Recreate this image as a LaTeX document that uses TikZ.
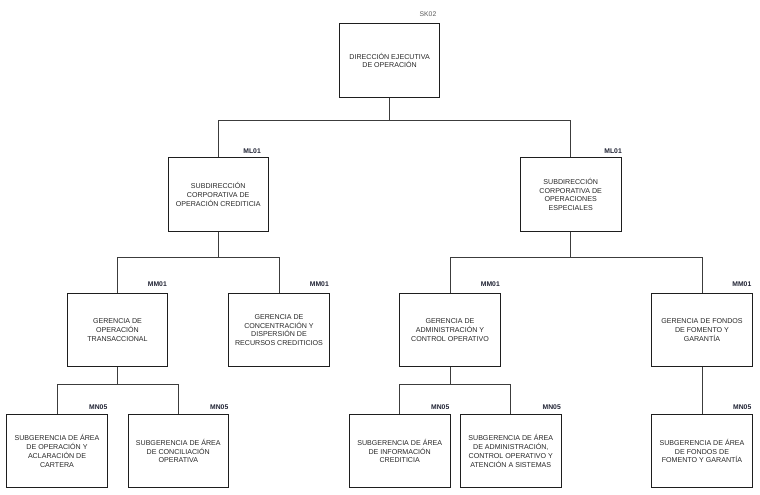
\documentclass[tikz,border=0pt]{standalone}
\usepackage{fontspec}
\setmainfont{Liberation Sans}
\definecolor{boxline}{HTML}{1E1E1E}
\definecolor{connline}{HTML}{3C3C3C}
\definecolor{boxtext}{HTML}{262626}
\definecolor{codetext}{HTML}{1F2233}
\definecolor{graycode}{HTML}{5A5A5A}
\tikzset{
  orgbox/.style={draw=boxline, line width=0.9pt, minimum width=100.5pt, minimum height=73.4pt,
    inner sep=0pt, align=center, text=boxtext,
    font=\fontsize{7.1pt}{8.8pt}\selectfont},
  codelbl/.style={anchor=base east, inner sep=0pt, text=codetext,
    font=\fontsize{6.8pt}{8pt}\selectfont\bfseries},
  graylbl/.style={anchor=base east, inner sep=0pt, text=graycode,
    font=\fontsize{6.8pt}{8pt}\selectfont},
  conn/.style={draw=connline, line width=0.9pt}
}
\begin{document}
\begin{tikzpicture}[x=1pt,y=-1pt]
\useasboundingbox (0,0) rectangle (760,495);
% boxes
\node[orgbox] (top) at (389.6,60.5) {DIRECCIÓN EJECUTIVA\\DE OPERACIÓN};
\node[orgbox] (l1) at (218.2,194.5) {SUBDIRECCIÓN\\CORPORATIVA DE\\OPERACIÓN CREDITICIA};
\node[orgbox] (r1) at (570.7,194.5) {SUBDIRECCIÓN\\CORPORATIVA DE\\OPERACIONES\\ESPECIALES};
\node[orgbox] (l2a) at (117.5,330) {GERENCIA DE\\OPERACIÓN\\TRANSACCIONAL};
\node[orgbox] (l2b) at (279,330) {GERENCIA DE\\CONCENTRACIÓN Y\\DISPERSIÓN DE\\RECURSOS CREDITICIOS};
\node[orgbox] (r2a) at (450,330) {GERENCIA DE\\ADMINISTRACIÓN Y\\CONTROL OPERATIVO};
\node[orgbox] (r2b) at (702,330) {GERENCIA DE FONDOS\\DE FOMENTO Y\\GARANTÍA};
\node[orgbox] (l3a) at (57,451) {SUBGERENCIA DE ÁREA\\DE OPERACIÓN Y\\ACLARACIÓN DE\\CARTERA};
\node[orgbox] (l3b) at (178.3,451) {SUBGERENCIA DE ÁREA\\DE CONCILIACIÓN\\OPERATIVA};
\node[orgbox] (r3a) at (399.7,451) {SUBGERENCIA DE ÁREA\\DE INFORMACIÓN\\CREDITICIA};
\node[orgbox] (r3b) at (510.8,451) {SUBGERENCIA DE ÁREA\\DE ADMINISTRACIÓN,\\CONTROL OPERATIVO Y\\ATENCIÓN A SISTEMAS};
\node[orgbox] (r3c) at (702,451) {SUBGERENCIA DE ÁREA\\DE FONDOS DE\\FOMENTO Y GARANTÍA};
% code labels
\node[graylbl] (ctop) at (436.5,17) {SK02};
\node[codelbl] (cl1) at (261,153) {ML01};
\node[codelbl] (cr1) at (622,153) {ML01};
\node[codelbl] (cl2a) at (167,286) {MM01};
\node[codelbl] (cl2b) at (329,286) {MM01};
\node[codelbl] (cr2a) at (500,286) {MM01};
\node[codelbl] (cr2b) at (751.5,286) {MM01};
\node[codelbl] (cl3a) at (107.5,409.5) {MN05};
\node[codelbl] (cl3b) at (228.5,409.5) {MN05};
\node[codelbl] (cr3a) at (449.5,409.5) {MN05};
\node[codelbl] (cr3b) at (561,409.5) {MN05};
\node[codelbl] (cr3c) at (751.5,409.5) {MN05};
% connectors
\draw[conn] (top.south) -- (top.south |- 0,120) -| (l1.north);
\draw[conn] (top.south) -- (top.south |- 0,120) -| (r1.north);
\draw[conn] (l1.south) -- (l1.south |- 0,257.3) -| (l2a.north);
\draw[conn] (l1.south) -- (l1.south |- 0,257.3) -| (l2b.north);
\draw[conn] (r1.south) -- (r1.south |- 0,257.3) -| (r2a.north);
\draw[conn] (r1.south) -- (r1.south |- 0,257.3) -| (r2b.north);
\draw[conn] (l2a.south) -- (l2a.south |- 0,384) -| (l3a.north);
\draw[conn] (l2a.south) -- (l2a.south |- 0,384) -| (l3b.north);
\draw[conn] (r2a.south) -- (r2a.south |- 0,384) -| (r3a.north);
\draw[conn] (r2a.south) -- (r2a.south |- 0,384) -| (r3b.north);
\draw[conn] (r2b.south) -- (r3c.north);
\end{tikzpicture}
\end{document}
